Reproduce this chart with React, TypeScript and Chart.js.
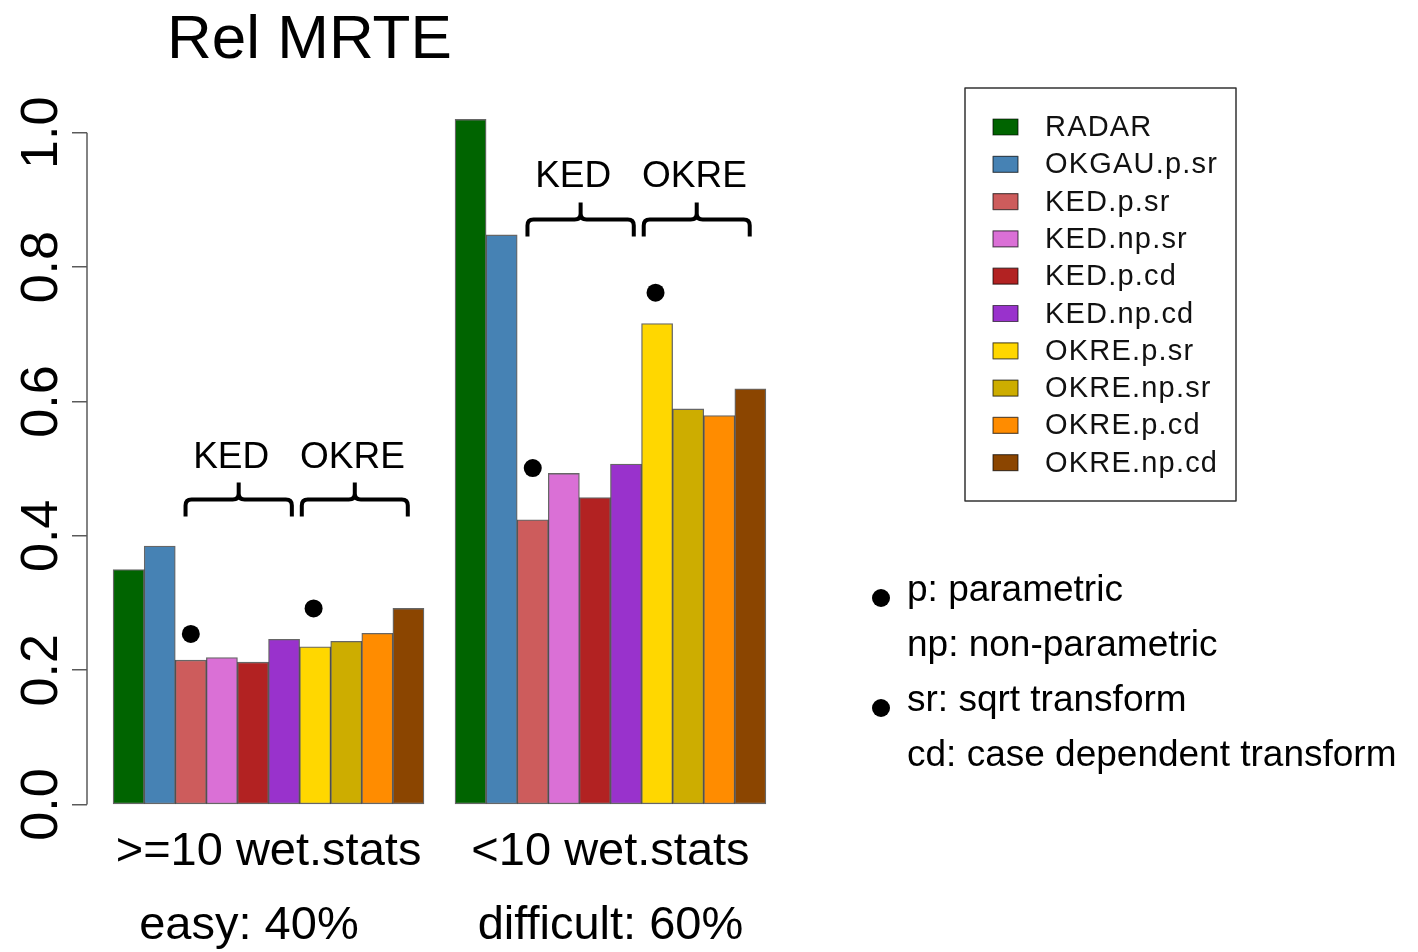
import React, { useEffect, useRef } from "react";
import { Chart, registerables } from "chart.js";

Chart.register(...registerables);

// ---------------- data ----------------
const methods = [
  "RADAR",
  "OKGAU.p.sr",
  "KED.p.sr",
  "KED.np.sr",
  "KED.p.cd",
  "KED.np.cd",
  "OKRE.p.sr",
  "OKRE.np.sr",
  "OKRE.p.cd",
  "OKRE.np.cd",
];
const colors = [
  "#006400",
  "#4682B4",
  "#CD5C5C",
  "#DA70D6",
  "#B22222",
  "#9932CC",
  "#FFD700",
  "#CDAD00",
  "#FF8C00",
  "#8B4500",
];
const easyValues = [0.35, 0.385, 0.215, 0.219, 0.212, 0.246, 0.235, 0.243, 0.255, 0.292];
const difficultValues = [1.02, 0.848, 0.424, 0.493, 0.457, 0.507, 0.716, 0.589, 0.579, 0.619];
const groupLabels = [">=10 wet.stats", "<10 wet.stats"];
const groupSubLabels = ["easy: 40%   ", "difficult: 60%"];
const yTicks = [0, 0.2, 0.4, 0.6, 0.8, 1.0];
const chartTitle = "Rel MRTE";

// braces (x in bar units within a group, R barplot convention)
const braceLabels = ["KED", "OKRE"];
const braceFrom = [3.33, 7.07];
const braceTo = [6.75, 10.48];
const braceLabelX = [4.8, 8.7];
const braceLevel = [0.454, 0.871]; // per group

// black dots marking the p.sr variants
const dotX = [3.5, 7.45, 14.5, 18.45];
const dotY = [0.254, 0.292, 0.501, 0.762];

const noteLines = ["p: parametric", "np: non-parametric", "sr: sqrt transform", "cd: case dependent transform"];
const noteBullets = [true, false, true, false];

// R barplot(beside=TRUE) geometry: each group starts with one empty bar slot
const groupStride = methods.length + 1;
const xMin = 0.16;
const xMax = 22.84;
const yMin = -0.0408;
const yMax = 1.0608;

const FONT = "'Liberation Sans', Arial, Helvetica, sans-serif";

const annotationPlugin = {
  id: "rAnnotations",
  afterDatasetsDraw(chart: any) {
    const { ctx, scales, chartArea } = chart;
    const x = scales.x;
    const y = scales.y;
    ctx.save();

    // R-style y axis line (only between first and last tick)
    ctx.strokeStyle = "#5a5a5a";
    ctx.lineWidth = 1.5;
    ctx.beginPath();
    ctx.moveTo(chartArea.left, y.getPixelForValue(yTicks[0]));
    ctx.lineTo(chartArea.left, y.getPixelForValue(yTicks[yTicks.length - 1]));
    ctx.stroke();

    // braces with labels
    ctx.strokeStyle = "#000";
    ctx.lineWidth = 4;
    ctx.lineCap = "butt";
    ctx.lineJoin = "round";
    for (let g = 0; g < 2; g++) {
      const yH = y.getPixelForValue(braceLevel[g]);
      for (let b = 0; b < braceLabels.length; b++) {
        const x1 = x.getPixelForValue(braceFrom[b] + g * groupStride);
        const x2 = x.getPixelForValue(braceTo[b] + g * groupStride);
        const xm = (x1 + x2) / 2;
        const d = 17;
        const r = 6;
        ctx.beginPath();
        ctx.moveTo(x1, yH + d);
        ctx.lineTo(x1, yH + r);
        ctx.quadraticCurveTo(x1, yH, x1 + r, yH);
        ctx.lineTo(xm - r, yH);
        ctx.quadraticCurveTo(xm, yH, xm, yH - r);
        ctx.lineTo(xm, yH - d);
        ctx.moveTo(xm, yH - r);
        ctx.quadraticCurveTo(xm, yH, xm + r, yH);
        ctx.lineTo(x2 - r, yH);
        ctx.quadraticCurveTo(x2, yH, x2, yH + r);
        ctx.lineTo(x2, yH + d);
        ctx.stroke();

        ctx.fillStyle = "#000";
        ctx.font = `37px ${FONT}`;
        ctx.textAlign = "center";
        ctx.textBaseline = "alphabetic";
        ctx.fillText(braceLabels[b], x.getPixelForValue(braceLabelX[b] + g * groupStride), yH - 32);
      }
    }

    // title
    ctx.fillStyle = "#000";
    ctx.font = `62px ${FONT}`;
    ctx.textAlign = "left";
    ctx.textBaseline = "alphabetic";
    ctx.fillText(chartTitle, 167, 58);

    // legend box (from bar datasets)
    const bars = chart.data.datasets.filter((ds: any) => ds.type !== "scatter");
    const lx = 965, ly = 88, lw = 271, lh = 413;
    ctx.strokeStyle = "#333";
    ctx.lineWidth = 1.5;
    ctx.strokeRect(lx, ly, lw, lh);
    ctx.font = `29px ${FONT}`;
    ctx.textAlign = "left";
    ctx.textBaseline = "middle";
    bars.forEach((ds: any, i: number) => {
      const cy = 127 + i * 37.3;
      ctx.fillStyle = ds.backgroundColor;
      ctx.fillRect(993, cy - 8, 25, 16);
      ctx.strokeStyle = "rgba(0,0,0,0.6)";
      ctx.lineWidth = 1.2;
      ctx.strokeRect(993, cy - 8, 25, 16);
      ctx.fillStyle = "#111";
      (ctx as any).letterSpacing = "1.2px";
      ctx.fillText(ds.label, 1045, cy + 1);
      (ctx as any).letterSpacing = "0px";
    });

    // notes
    ctx.font = `37px ${FONT}`;
    ctx.textBaseline = "alphabetic";
    noteLines.forEach((t, i) => {
      const by = 601 + i * 55;
      ctx.fillStyle = "#000";
      ctx.fillText(t, 907, by);
      if (noteBullets[i]) {
        ctx.beginPath();
        ctx.arc(881, by - 3, 9, 0, Math.PI * 2);
        ctx.fill();
      }
    });

    ctx.restore();
  },
};

export default function App() {
  const ref = useRef<HTMLCanvasElement | null>(null);

  useEffect(() => {
    if (!ref.current) return;
    Chart.defaults.font.family = FONT;
    const barDatasets = methods.map((m, i) => ({
      type: "bar" as const,
      label: m,
      data: [
        { x: 1.5 + i, y: easyValues[i] },
        { x: 1.5 + i + groupStride, y: difficultValues[i] },
      ],
      backgroundColor: colors[i],
      borderColor: "rgba(0,0,0,0.6)",
      borderWidth: 1.3,
      borderSkipped: false,
      grouped: false,
      barPercentage: 1,
      categoryPercentage: 1,
      order: 2,
    }));
    const dots = {
      type: "scatter" as const,
      label: "dots",
      data: dotX.map((v, i) => ({ x: v, y: dotY[i] })),
      backgroundColor: "#000",
      borderColor: "#000",
      pointRadius: 9,
      pointHoverRadius: 9,
      borderWidth: 0,
      order: 1,
    };

    const chart = new Chart(ref.current, {
      type: "bar",
      data: { datasets: [...barDatasets, dots] as any },
      options: {
        responsive: false,
        animation: false,
        devicePixelRatio: 1,
        layout: { padding: { left: 0, top: 92, right: 626, bottom: 0 } },
        plugins: {
          legend: { display: false },
          tooltip: { enabled: false },
          title: { display: false },
        },
        scales: {
          x: {
            type: "linear",
            offset: false,
            min: xMin,
            max: xMax,
            afterBuildTicks: (scale: any) => {
              scale.ticks = groupLabels.map((_, g) => ({ value: g * groupStride + 1 + methods.length / 2 }));
            },
            afterFit: (scale: any) => {
              scale.height = 120;
              scale.paddingLeft = 0;
              scale.paddingRight = 0;
            },
            grid: { display: false, drawTicks: false },
            border: { display: false },
            ticks: {
              autoSkip: false,
              maxRotation: 0,
              minRotation: 0,
              padding: -17,
              color: "#000",
              font: { size: 47, lineHeight: 74 / 47 },
              callback: (_v: any, i: number) => [groupLabels[i], groupSubLabels[i]],
            },
          },
          y: {
            type: "linear",
            min: yMin,
            max: yMax,
            afterBuildTicks: (scale: any) => {
              scale.ticks = yTicks.map((v) => ({ value: v }));
            },
            afterFit: (scale: any) => {
              scale.width = 87;
              scale.paddingTop = 0;
              scale.paddingBottom = 0;
            },
            grid: {
              display: true,
              drawOnChartArea: false,
              drawTicks: true,
              tickLength: 15,
              color: "#5a5a5a",
              lineWidth: 1.5,
            },
            border: { display: false },
            ticks: {
              autoSkip: false,
              minRotation: 90,
              maxRotation: 90,
              crossAlign: "center",
              padding: -7,
              color: "#000",
              font: { size: 52 },
              callback: (v: any) => Number(v).toFixed(1),
            },
          },
        },
      },
      plugins: [annotationPlugin],
    } as any);

    return () => chart.destroy();
  }, []);

  return (
    <div style={{ position: "fixed", left: 0, top: 0, width: 1418, height: 952, background: "#fff" }}>
      <canvas ref={ref} width={1418} height={952} style={{ display: "block" }} />
    </div>
  );
}
